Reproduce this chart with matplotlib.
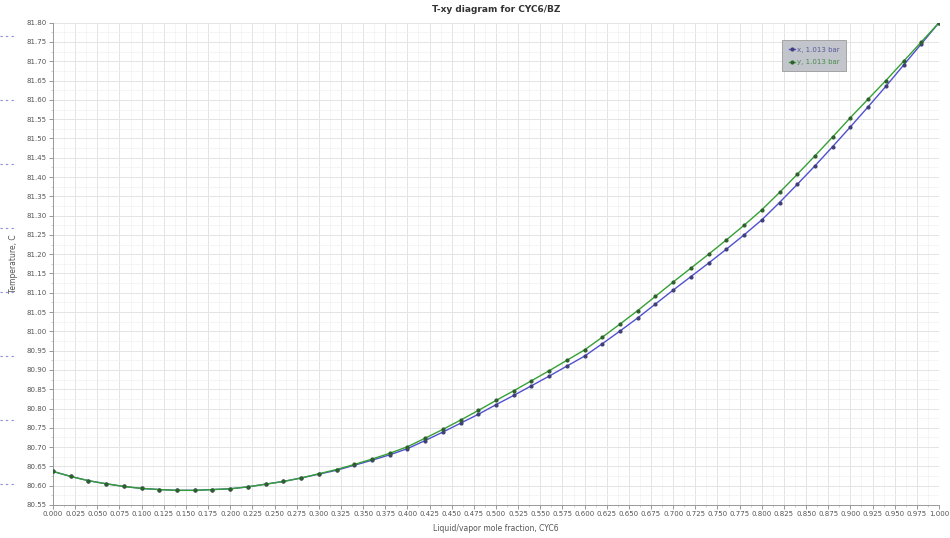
import numpy as np
import matplotlib
matplotlib.use("Agg")
import matplotlib.pyplot as plt
from matplotlib.ticker import MultipleLocator, FormatStrFormatter
from matplotlib.lines import Line2D

# Composition grid (mole fraction CYC6)
comp = [0.00, 0.02, 0.04, 0.06, 0.08, 0.10, 0.12, 0.14, 0.16, 0.18,
        0.20, 0.22, 0.24, 0.26, 0.28, 0.30, 0.32, 0.34, 0.36, 0.38,
        0.40, 0.42, 0.44, 0.46, 0.48, 0.50, 0.52, 0.54, 0.56, 0.58,
        0.60, 0.62, 0.64, 0.66, 0.68, 0.70, 0.72, 0.74, 0.76, 0.78,
        0.80, 0.82, 0.84, 0.86, 0.88, 0.90, 0.92, 0.94, 0.96, 0.98, 1.00]

# Temperature of liquid (x) curve
t_x = [80.637, 80.624, 80.613, 80.605, 80.598, 80.593, 80.590, 80.588, 80.588, 80.590,
       80.592, 80.597, 80.604, 80.611, 80.620, 80.630, 80.640, 80.653, 80.666, 80.680,
       80.696, 80.717, 80.739, 80.762, 80.785, 80.810, 80.834, 80.859, 80.884, 80.910,
       80.936, 80.968, 81.001, 81.035, 81.071, 81.107, 81.142, 81.177, 81.213, 81.250,
       81.289, 81.334, 81.381, 81.429, 81.479, 81.530, 81.582, 81.635, 81.690, 81.745, 81.800]

# Temperature of vapor (y) curve
t_y = [80.637, 80.624, 80.613, 80.605, 80.598, 80.593, 80.590, 80.588, 80.588, 80.590,
       80.592, 80.597, 80.604, 80.611, 80.620, 80.631, 80.642, 80.655, 80.669, 80.684,
       80.701, 80.723, 80.746, 80.770, 80.795, 80.821, 80.846, 80.872, 80.898, 80.925,
       80.952, 80.985, 81.019, 81.054, 81.091, 81.128, 81.164, 81.200, 81.237, 81.275,
       81.315, 81.360, 81.407, 81.455, 81.504, 81.554, 81.602, 81.650, 81.700, 81.750, 81.800]

series_labels = ["x, 1.013 bar", "y, 1.013 bar"]
title = "T-xy diagram for CYC6/BZ"
xlabel = "Liquid/vapor mole fraction, CYC6"
ylabel = "Temperature, C"

fig = plt.figure(figsize=(9.5, 5.38), dpi=100)
ax = fig.add_axes([53/950, 1-505/538, (939-53)/950, (505-22.7)/538])

ax.plot(comp, t_x, color="#5050d0", lw=1.0, marker="o", ms=2.0,
        mfc="#404078", mec="#404078", label=series_labels[0], zorder=3)
ax.plot(comp, t_y, color="#35a035", lw=1.0, marker="o", ms=2.0,
        mfc="#2f5f2f", mec="#2f5f2f", label=series_labels[1], zorder=4)

ax.set_xlim(0, 1.0)
ax.set_ylim(80.55, 81.80)
ax.xaxis.set_major_locator(MultipleLocator(0.025))
ax.yaxis.set_major_locator(MultipleLocator(0.05))
ax.xaxis.set_minor_locator(MultipleLocator(0.0125))
ax.yaxis.set_minor_locator(MultipleLocator(0.025))
ax.xaxis.set_major_formatter(FormatStrFormatter("%.3f"))
ax.yaxis.set_major_formatter(FormatStrFormatter("%.2f"))
ax.tick_params(axis="both", which="major", labelsize=5, length=3, width=0.6,
               color="#888888", labelcolor="#555555", pad=1.5)
ax.tick_params(axis="both", which="minor", length=1.5, width=0.4, color="#aaaaaa")
ax.grid(True, which="major", color="#e4e4e4", lw=0.7)
ax.grid(True, which="minor", color="#f2f2f2", lw=0.5)
ax.set_axisbelow(True)
for side in ["top", "right"]:
    ax.spines[side].set_visible(False)
for side in ["left", "bottom"]:
    ax.spines[side].set_color("#999999")
    ax.spines[side].set_linewidth(0.7)

ax.set_title(title, fontsize=6.5, fontweight="bold", color="#333333", pad=8)
ax.set_xlabel(xlabel, fontsize=5.5, color="#555555", labelpad=5)
ax.set_ylabel(ylabel, fontsize=5.5, color="#555555", labelpad=6)

leg = ax.legend(loc="upper left", bbox_to_anchor=((779-53)/886, (505-37)/482.3),
                fontsize=5, frameon=True, fancybox=False, handlelength=0.9,
                handletextpad=0.3, borderpad=0.9, labelspacing=0.9)
leg.get_frame().set_facecolor("#c2c6cc")
leg.get_frame().set_edgecolor("#9a9a9a")
leg.get_frame().set_alpha(1.0)
leg.get_frame().set_linewidth(0.6)
for txt, col in zip(leg.get_texts(), ["#5a5a9a", "#4a8a4a"]):
    txt.set_color(col)

# decorative dashes on the far left margin (page artifacts)
for py in [36, 100, 164, 228, 292, 356, 420, 484]:
    fig.add_artist(Line2D([0/950, 14/950], [1-py/538, 1-py/538],
                          transform=fig.transFigure, color="#8a8ad8",
                          lw=0.8, ls=(0, (2, 3))))

fig.savefig("out.png", dpi=100)
